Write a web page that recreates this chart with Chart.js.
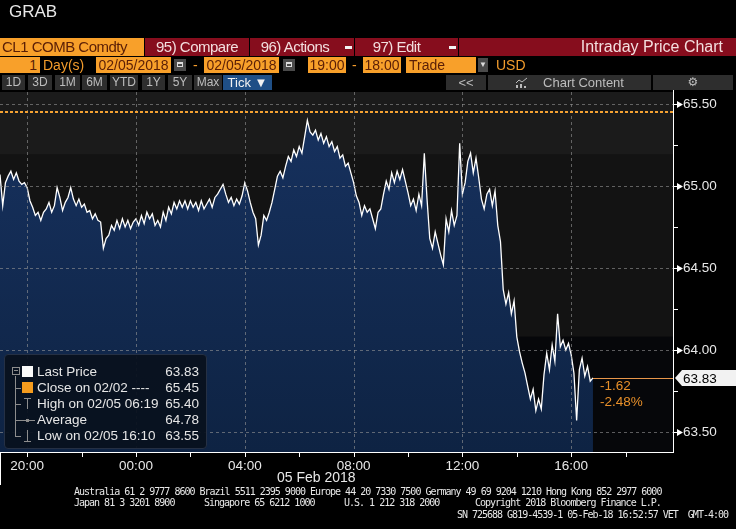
<!DOCTYPE html>
<html>
<head>
<meta charset="utf-8">
<title>GRAB - CL1 Intraday</title>
<script src="https://cdn.jsdelivr.net/npm/chart.js@4.4.0/dist/chart.umd.min.js"></script>
<style>
  body { margin: 0; background: #000; width: 736px; height: 529px; overflow: hidden; position: relative;
         font-family: 'Liberation Sans', Arial, sans-serif; }
  #chart { position: absolute; left: 0; top: 0; }
  .abs { position: absolute; white-space: nowrap; }
  .bar1 { top: 38px; height: 18px; line-height: 18px; font-size: 15px; letter-spacing: -0.5px; }
  .red { background: #860d1d; color: #f3dede; text-align: center; }
  .org { background: #f8a02a; color: #5a1e06; }
  .row2 { top: 57px; height: 16px; line-height: 16px; font-size: 14px; }
  .otxt { color: #f39c2c; }
  .cal { top: 59px; width: 12px; height: 12px; background: #4a4a4a; }
  .cal::after { content: ''; position: absolute; left: 3px; top: 3px; width: 6px; height: 5px; border: 1px solid #ddd; border-top-width: 2px; box-sizing: border-box; }
  .btn { top: 75px; height: 15px; line-height: 15px; font-size: 12px; background: #2e2e2e; color: #bdbdbd; text-align: center; }
  .dd { width: 7px; height: 3px; background: #f3f3f3; top: 46px; }
  #legend { position: absolute; left: 4px; top: 354px; width: 203px; height: 95px; background: rgba(9,17,30,0.94);
            border: 1px solid #253044; border-radius: 4px; box-sizing: border-box; color: #e6e6e6; font-size: 13.5px; }
  #legend .row { position: absolute; left: 32px; right: 7px; height: 16px; line-height: 16px; }
  #legend .row span { position: absolute; right: 0; top: 0; }
  #legend .ic { position: absolute; background: #8d8d8d; }
  .foot { font-family: 'DejaVu Sans Mono', 'Liberation Mono', monospace; font-size: 10px; letter-spacing: -1px;
          color: #e8e8e8; line-height: 11px; white-space: pre; }
  .chg { color: #e8902a; font-size: 13.5px; line-height: 16px; }
</style>
</head>
<body>
<canvas id="chart" width="736" height="529"></canvas>

<!-- header -->
<div class="abs" style="left:9px;top:2px;font-size:17px;color:#e8e8e8;">GRAB</div>

<div class="abs bar1 org" style="left:0;width:144px;padding-left:2px;box-sizing:border-box;">CL1 COMB Comdty</div>
<div class="abs bar1 red" style="left:145px;width:104px;">95) Compare</div>
<div class="abs bar1 red" style="left:250px;width:104px;padding-right:14px;box-sizing:border-box;">96) Actions</div>
<div class="abs dd" style="left:345px;"></div>
<div class="abs bar1 red" style="left:355px;width:103px;padding-right:20px;box-sizing:border-box;">97) Edit</div>
<div class="abs dd" style="left:449px;"></div>
<div class="abs bar1 red" style="left:459px;width:277px;text-align:right;padding-right:13px;box-sizing:border-box;font-size:16px;letter-spacing:0;">Intraday Price Chart</div>

<div class="abs row2 org" style="left:0;width:40px;text-align:right;padding-right:3px;box-sizing:border-box;">1</div>
<div class="abs row2 otxt" style="left:43px;">Day(s)</div>
<div class="abs row2 org" style="left:96px;width:75px;text-align:center;">02/05/2018</div>
<div class="abs cal" style="left:174px;"></div>
<div class="abs row2 otxt" style="left:193px;">-</div>
<div class="abs row2 org" style="left:204px;width:75px;text-align:center;">02/05/2018</div>
<div class="abs cal" style="left:283px;"></div>
<div class="abs row2 org" style="left:308px;width:38px;text-align:center;">19:00</div>
<div class="abs row2 otxt" style="left:352px;">-</div>
<div class="abs row2 org" style="left:363px;width:38px;text-align:center;">18:00</div>
<div class="abs row2 org" style="left:406px;width:70px;padding-left:3px;box-sizing:border-box;">Trade</div>
<div class="abs" style="left:478px;top:58px;width:10px;height:14px;background:#4a4a4a;color:#ddd;font-size:8px;line-height:14px;text-align:center;">&#9660;</div>
<div class="abs row2 otxt" style="left:496px;">USD</div>

<div class="abs btn" style="left:2px;width:23px;">1D</div>
<div class="abs btn" style="left:28px;width:24px;">3D</div>
<div class="abs btn" style="left:55px;width:25px;">1M</div>
<div class="abs btn" style="left:82px;width:25px;">6M</div>
<div class="abs btn" style="left:110px;width:28px;">YTD</div>
<div class="abs btn" style="left:142px;width:23px;">1Y</div>
<div class="abs btn" style="left:168px;width:24px;">5Y</div>
<div class="abs btn" style="left:194px;width:28px;">Max</div>
<div class="abs btn" style="left:223px;width:49px;background:#1f4f86;color:#f2f2f2;font-size:13px;">Tick &#9660;</div>
<div class="abs btn" style="left:446px;width:40px;font-size:13px;">&lt;&lt;</div>
<div class="abs btn" style="left:488px;width:163px;font-size:13px;">
  <svg width="14" height="11" style="vertical-align:-1px;margin-right:14px;">
    <polyline points="1,6 4,3 7,5 12,1" fill="none" stroke="#bbb" stroke-width="1"/>
    <rect x="1" y="8" width="2" height="3" fill="#bbb"/><rect x="5" y="7" width="2" height="4" fill="#bbb"/><rect x="9" y="9" width="2" height="2" fill="#bbb"/>
  </svg>Chart Content</div>
<div class="abs btn" style="left:653px;width:80px;font-family:'DejaVu Sans',sans-serif;font-size:12px;">&#9881;</div>

<!-- legend -->
<div id="legend">
  <div class="ic" style="left:7px;top:12px;width:8px;height:8px;background:none;border:1px solid #8d8d8d;box-sizing:border-box;"></div>
  <div class="ic" style="left:9px;top:15px;width:4px;height:1px;"></div>
  <div class="ic" style="left:10px;top:21px;width:1px;height:61px;"></div>
  <div class="ic" style="left:10px;top:33px;width:6px;height:1px;"></div>
  <div class="ic" style="left:10px;top:49px;width:6px;height:1px;"></div>
  <div class="ic" style="left:10px;top:65px;width:6px;height:1px;"></div>
  <div class="ic" style="left:10px;top:81px;width:6px;height:1px;"></div>
  <div class="ic" style="left:17px;top:11px;width:11px;height:11px;background:#fafafa;"></div>
  <div class="ic" style="left:17px;top:27px;width:11px;height:11px;background:#f59c1e;"></div>
  <div class="ic" style="left:19px;top:43px;width:7px;height:1px;"></div>
  <div class="ic" style="left:22px;top:43px;width:1px;height:11px;"></div>
  <div class="ic" style="left:16px;top:65px;width:14px;height:1px;"></div>
  <div class="ic" style="left:21px;top:64px;width:3px;height:3px;"></div>
  <div class="ic" style="left:22px;top:75px;width:1px;height:11px;"></div>
  <div class="ic" style="left:19px;top:86px;width:7px;height:1px;"></div>
</div>

<div class="abs chg" id="chg1" style="left:600px;top:378px;"></div>
<div class="abs chg" id="chg2" style="left:600px;top:394px;"></div>

<!-- footer -->
<div class="abs" style="left:277px;top:469px;font-size:14px;line-height:16px;color:#e8e8e8;">05 Feb 2018</div>
<div class="abs foot" style="left:74px;top:486px;">Australia 61 2 9777 8600 Brazil 5511 2395 9000 Europe 44 20 7330 7500 Germany 49 69 9204 1210 Hong Kong 852 2977 6000</div>
<div class="abs foot" style="left:74px;top:497px;">Japan 81 3 3201 8900</div>
<div class="abs foot" style="left:204px;top:497px;">Singapore 65 6212 1000</div>
<div class="abs foot" style="left:344px;top:497px;">U.S. 1 212 318 2000</div>
<div class="abs foot" style="left:475px;top:497px;">Copyright 2018 Bloomberg Finance L.P.</div>
<div class="abs foot" style="right:8px;top:509px;">SN 725688 G819-4539-1 05-Feb-18 16:52:57 VET  GMT-4:00</div>

<script>
// tick data, one reading every 6 minutes starting 19:00 on 04 Feb (one row = one hour)
const startHour = 19;
const stepMinutes = 6;
const prices = [
  65.07, 64.88, 65.02, 65.06, 65.09, 65.04, 65.08, 65.03, 65.01, 65.02,
  64.99, 64.91, 64.87, 64.82, 64.84, 64.79, 64.84, 64.86, 64.90, 64.84,
  64.88, 64.99, 64.93, 64.85, 64.90, 64.93, 64.99, 64.92, 64.88, 64.92,
  64.87, 64.89, 64.84, 64.85, 64.80, 64.83, 64.79, 64.78, 64.62, 64.68,
  64.70, 64.76, 64.73, 64.79, 64.74, 64.80, 64.75, 64.79, 64.74, 64.78,
  64.80, 64.76, 64.82, 64.77, 64.84, 64.80, 64.83, 64.76, 64.79, 64.75,
  64.84, 64.79, 64.87, 64.83, 64.90, 64.86, 64.91, 64.87, 64.91, 64.86,
  64.91, 64.87, 64.90, 64.85, 64.91, 64.86, 64.89, 64.92, 64.87, 64.93,
  64.95, 64.98, 65.01, 64.95, 64.90, 64.93, 64.88, 64.92, 64.89, 64.94,
  65.02, 64.97, 64.90, 64.84, 64.80, 64.64, 64.70, 64.82, 64.79, 64.84,
  64.90, 64.98, 65.06, 65.09, 65.05, 65.12, 65.18, 65.15, 65.22, 65.18,
  65.24, 65.20, 65.30, 65.40, 65.33, 65.31, 65.34, 65.28, 65.32, 65.26,
  65.30, 65.24, 65.27, 65.21, 65.24, 65.17, 65.19, 65.12, 65.14, 65.08,
  65.02, 64.94, 64.90, 64.82, 64.88, 64.84, 64.86, 64.80, 64.74, 64.84,
  64.86, 64.95, 65.03, 64.98, 65.08, 65.02, 65.09, 65.04, 65.10, 65.03,
  64.96, 64.88, 64.92, 64.85, 64.95, 64.88, 65.20, 64.92, 64.68, 64.62,
  64.72, 64.65, 64.58, 64.52, 64.80, 64.72, 64.85, 64.76, 64.82, 65.26,
  64.95, 65.02, 65.15, 65.20, 65.08, 65.17, 65.05, 64.92, 64.86, 64.95,
  64.98, 64.88, 64.97, 64.76, 64.66, 64.37, 64.28, 64.35, 64.22, 64.30,
  64.08, 63.99, 63.92, 63.86, 63.78, 63.70, 63.76, 63.63, 63.70, 63.64,
  63.85, 63.98, 63.88, 64.03, 63.93, 64.22, 64.02, 64.06, 64.00, 64.04,
  63.97, 63.86, 63.57, 63.88, 63.95, 63.84, 63.90, 63.81, 63.83
];

const priceTicks = [63.5, 63.75, 64, 64.25, 64.5, 64.75, 65, 65.25, 65.5];
const hourTicks = [20, 22, 24, 26, 28, 30, 32, 34, 36, 38, 40, 42];
const gridHours = [20, 24, 28, 32, 36, 40];
const prevClose = 65.45;
const lastPrice = 63.83;
const bandLevels = [65.19, 64.08];

const legendLabels = ['Last Price', 'Close on 02/02 ----', 'High on 02/05 06:19', 'Average', 'Low on 02/05 16:10'];
const legendValues = ['63.83', '65.45', '65.40', '64.78', '63.55'];
const changeTexts = ['-1.62', '-2.48%'];

const FONT = "'Liberation Sans', Arial, sans-serif";

// legend rows
const legendBox = document.getElementById('legend');
legendLabels.forEach((label, i) => {
    const row = document.createElement('div');
    row.className = 'row';
    row.style.top = (9 + i * 16) + 'px';
    row.innerHTML = label + '<span>' + legendValues[i] + '</span>';
    legendBox.appendChild(row);
});
document.getElementById('chg1').textContent = changeTexts[0];
document.getElementById('chg2').textContent = changeTexts[1];

const points = prices.map((p, i) => ({ x: startHour + i * stepMinutes / 60, y: p }));
const lastHour = points[points.length - 1].x;

function pad(n) {
    return String(n).padStart(2, '0');
}

const bloombergLayer = {
    id: 'bloombergLayer',
    beforeDatasetsDraw(chart) {
        const { ctx, chartArea: a, scales: { y } } = chart;
        const b1 = y.getPixelForValue(bandLevels[0]);
        const b2 = y.getPixelForValue(bandLevels[1]);
        ctx.save();
        ctx.fillStyle = '#1b1b1b';
        ctx.fillRect(a.left, a.top, a.width, b1 - a.top);
        ctx.fillStyle = '#131313';
        ctx.fillRect(a.left, b1, a.width, b2 - b1);
        ctx.fillStyle = '#06070a';
        ctx.fillRect(a.left, b2, a.width, a.bottom - b2);
        ctx.restore();
    },
    afterDatasetsDraw(chart) {
        const { ctx, chartArea: a, scales: { x, y } } = chart;
        const line = (x1, y1, x2, y2) => {
            ctx.beginPath();
            ctx.moveTo(x1, y1);
            ctx.lineTo(x2, y2);
            ctx.stroke();
        };
        ctx.save();

        // dashed grid
        ctx.lineWidth = 1;
        ctx.setLineDash([3, 3]);
        ctx.strokeStyle = 'rgba(150,150,150,0.6)';
        priceTicks.filter(v => v % 0.5 === 0).forEach(v => {
            const py = Math.round(y.getPixelForValue(v)) + 0.5;
            line(a.left, py, a.right, py);
        });
        gridHours.forEach(h => {
            const px = Math.round(x.getPixelForValue(h)) + 0.5;
            line(px, a.top, px, a.bottom);
        });

        // previous close
        ctx.setLineDash([3, 2]);
        ctx.lineWidth = 2;
        ctx.strokeStyle = '#f4a232';
        const cy = Math.round(y.getPixelForValue(prevClose));
        line(a.left, cy, a.right, cy);

        // last price line
        ctx.setLineDash([]);
        ctx.lineWidth = 1;
        ctx.strokeStyle = '#e8964a';
        const ly = Math.round(y.getPixelForValue(lastPrice)) + 0.5;
        line(x.getPixelForValue(lastHour), ly, a.right, ly);

        // axis lines
        ctx.strokeStyle = '#ffffff';
        line(a.right + 0.5, a.top - 2, a.right + 0.5, a.bottom + 1);
        line(a.left, a.bottom + 0.5, a.right + 1, a.bottom + 0.5);
        line(0.5, a.bottom, 0.5, a.bottom + 33);

        // price ticks
        ctx.fillStyle = '#ffffff';
        priceTicks.forEach(v => {
            const py = Math.round(y.getPixelForValue(v)) + 0.5;
            if (v % 0.5 === 0) {
                line(a.right, py, a.right + 4, py);
                ctx.beginPath();
                ctx.moveTo(a.right + 4, py - 3.5);
                ctx.lineTo(a.right + 10, py);
                ctx.lineTo(a.right + 4, py + 3.5);
                ctx.closePath();
                ctx.fill();
            } else {
                line(a.right, py, a.right + 5, py);
            }
        });

        // time ticks
        hourTicks.forEach(h => {
            const px = Math.round(x.getPixelForValue(h)) + 0.5;
            line(px, a.bottom, px, a.bottom + 5);
        });

        // last price tag
        const ty = Math.round(y.getPixelForValue(lastPrice));
        ctx.fillStyle = '#f2f2f2';
        ctx.beginPath();
        ctx.moveTo(a.right + 2, ty);
        ctx.lineTo(a.right + 9, ty - 8);
        ctx.lineTo(736, ty - 8);
        ctx.lineTo(736, ty + 8);
        ctx.lineTo(a.right + 9, ty + 8);
        ctx.closePath();
        ctx.fill();
        ctx.fillStyle = '#000000';
        ctx.font = '13.5px ' + FONT;
        ctx.textBaseline = 'middle';
        ctx.fillText(lastPrice.toFixed(2), a.right + 10, ty + 1);

        ctx.restore();
    }
};

const ctx = document.getElementById('chart').getContext('2d');
new Chart(ctx, {
    type: 'line',
    data: {
        datasets: [{
            data: points,
            borderColor: '#ffffff',
            borderWidth: 1.3,
            pointRadius: 0,
            fill: 'start',
            backgroundColor: (context) => {
                const area = context.chart.chartArea;
                if (!area) return '#13294a';
                const g = context.chart.ctx.createLinearGradient(0, area.top, 0, area.bottom);
                g.addColorStop(0, '#173260');
                g.addColorStop(1, '#0e2343');
                return g;
            }
        }]
    },
    options: {
        responsive: false,
        animation: false,
        devicePixelRatio: 1,
        layout: { padding: { top: 92, left: 0, right: 0, bottom: 0 } },
        plugins: {
            legend: { display: false },
            title: { display: false },
            tooltip: { enabled: false }
        },
        scales: {
            x: {
                type: 'linear',
                min: 19,
                max: 19 + 673 / 27.2,
                grid: { display: false, drawTicks: false },
                border: { display: false },
                afterBuildTicks: s => { s.ticks = hourTicks.map(v => ({ value: v })); },
                afterFit: s => { s.height = 77; },
                ticks: {
                    autoSkip: false,
                    maxRotation: 0,
                    padding: 6,
                    color: '#e8e8e8',
                    font: { family: FONT, size: 13.5 },
                    callback: v => (v % 4 === 0 ? pad(v % 24) + ':00' : '')
                }
            },
            y: {
                position: 'right',
                min: 63.378,
                max: 65.573,
                grid: { display: false, drawTicks: false },
                border: { display: false },
                afterBuildTicks: s => { s.ticks = priceTicks.map(v => ({ value: v })); },
                afterFit: s => { s.width = 63; },
                ticks: {
                    padding: 10,
                    color: '#e8e8e8',
                    font: { family: FONT, size: 13.5 },
                    callback: v => (v % 0.5 === 0 ? v.toFixed(2) : '')
                }
            }
        }
    },
    plugins: [bloombergLayer]
});
</script>
</body>
</html>
